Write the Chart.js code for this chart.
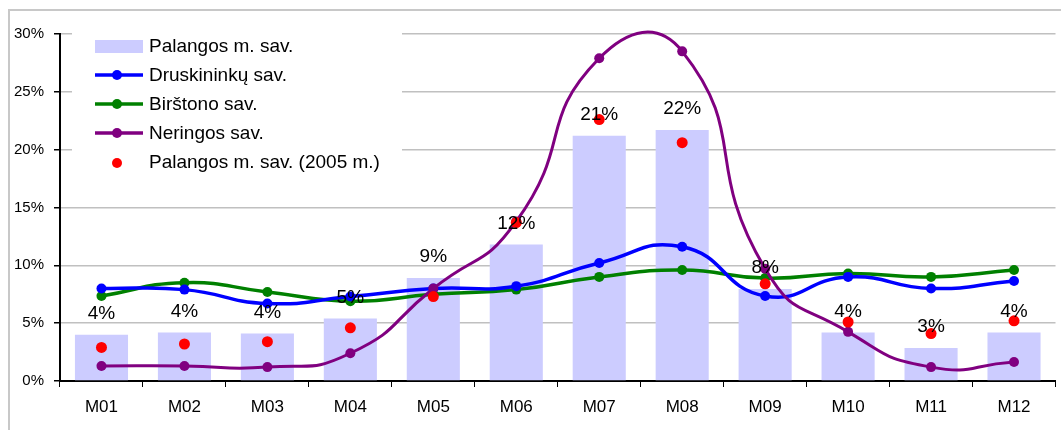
<!DOCTYPE html>
<html>
<head>
<meta charset="utf-8">
<script src="https://cdn.jsdelivr.net/npm/chart.js@4.4.1/dist/chart.umd.min.js"></script>
<style>
  html, body { margin: 0; padding: 0; background: #fff; }
  #wrap { position: relative; width: 1061px; height: 430px; overflow: hidden; }
  #frame { position: absolute; left: 8px; top: 9px; width: 1100px; height: 500px;
           border: 2px solid #c8c8c8; box-sizing: border-box; pointer-events: none; }
  canvas { position: absolute; left: 0; top: 0; }
</style>
</head>
<body>
<div id="wrap">
  <canvas id="chart" width="1061" height="430"></canvas>
  <div id="frame"></div>
</div>
<script>
/* ── data ── */
const months      = ['M01','M02','M03','M04','M05','M06','M07','M08','M09','M10','M11','M12'];
const palanga     = [4.0, 4.2, 4.1, 5.4, 8.9, 11.8, 21.2, 21.7, 7.95, 4.2, 2.85, 4.2];
const barLabels   = ['4%','4%','4%','5%','9%','12%','21%','22%','8%','4%','3%','4%'];
const druskininkai = [8.0, 7.9, 6.7, 7.3, 8.0, 8.2, 10.2, 11.6, 7.35, 9.0, 8.0, 8.65];
const birstonas   = [7.35, 8.5, 7.7, 6.9, 7.5, 7.9, 9.0, 9.6, 8.9, 9.3, 9.0, 9.6];
const neringa     = [1.3, 1.3, 1.2, 2.4, 8.0, 13.8, 27.9, 28.5, 9.7, 4.25, 1.2, 1.65];
const palanga2005 = [2.9, 3.2, 3.4, 4.6, 7.3, 13.7, 22.6, 20.6, 8.4, 5.1, 4.1, 5.2];
const yTicks      = [0, 5, 10, 15, 20, 25, 30];

const FONT = 'Liberation Sans, Arial, sans-serif';

/* ── legend drawn inside the plot, on a white box ── */
const legendItems = [
  { text: 'Palangos m. sav.',          type: 'bar',   color: '#ccccff' },
  { text: 'Druskininkų sav.',          type: 'line',  color: '#0000ff' },
  { text: 'Birštono sav.',             type: 'line',  color: '#008000' },
  { text: 'Neringos sav.',             type: 'line',  color: '#800080' },
  { text: 'Palangos m. sav. (2005 m.)', type: 'dot',  color: '#ff0000' }
];

const insideLegend = {
  id: 'insideLegend',
  beforeDatasetsDraw(chart) {
    const ctx = chart.ctx;
    const x0 = 95, y0 = 46, step = 29;
    ctx.save();
    ctx.fillStyle = '#fff';
    ctx.fillRect(72, 27, 330, 152);
    ctx.font = '19px ' + FONT;
    ctx.textBaseline = 'middle';
    legendItems.forEach((it, i) => {
      const y = y0 + i * step;
      if (it.type === 'bar') {
        ctx.fillStyle = it.color;
        ctx.fillRect(x0, y - 6, 48, 13);
      } else if (it.type === 'line') {
        ctx.strokeStyle = it.color;
        ctx.lineWidth = 3.5;
        ctx.beginPath(); ctx.moveTo(x0, y); ctx.lineTo(x0 + 48, y); ctx.stroke();
        ctx.fillStyle = it.color;
        ctx.beginPath(); ctx.arc(x0 + 22, y, 5, 0, Math.PI * 2); ctx.fill();
      } else {
        ctx.fillStyle = it.color;
        ctx.beginPath(); ctx.arc(x0 + 22, y + 1, 5, 0, Math.PI * 2); ctx.fill();
      }
      ctx.fillStyle = '#000';
      ctx.fillText(it.text, 149, y + 1);
    });
    ctx.restore();
  }
};

/* ── percentage labels above bars ── */
const barValueLabels = {
  id: 'barValueLabels',
  afterDatasetsDraw(chart) {
    const ctx = chart.ctx;
    const meta = chart.getDatasetMeta(0);
    ctx.save();
    ctx.font = '19px ' + FONT;
    ctx.fillStyle = '#000';
    ctx.textAlign = 'center';
    ctx.textBaseline = 'middle';
    meta.data.forEach((bar, i) => {
      ctx.fillText(barLabels[i], bar.x, bar.y - 21);
    });
    ctx.restore();
  }
};

const lineDs = (label, data, color, order, width, tension) => ({
  type: 'line',
  label, data, order,
  borderColor: color,
  backgroundColor: color,
  borderWidth: width,
  pointRadius: 5,
  pointHoverRadius: 5,
  pointBorderWidth: 0,
  tension: tension,
  fill: false,
  clip: false
});

new Chart(document.getElementById('chart'), {
  data: {
    labels: months,
    datasets: [
      {
        type: 'bar',
        label: 'Palangos m. sav.',
        data: palanga,
        backgroundColor: '#ccccff',
        barPercentage: 1,
        categoryPercentage: 0.64,
        order: 5
      },
      lineDs('Birštono sav.', birstonas, '#008000', 4, 3.5, 0.5),
      lineDs('Druskininkų sav.', druskininkai, '#0000ff', 3, 3.5, 0.5),
      lineDs('Neringos sav.', neringa, '#800080', 2, 3, 0.55),
      {
        type: 'line',
        label: 'Palangos m. sav. (2005 m.)',
        data: palanga2005,
        showLine: false,
        pointRadius: 5.5,
        pointBorderWidth: 0,
        backgroundColor: '#ff0000',
        borderColor: '#ff0000',
        order: 1
      }
    ]
  },
  options: {
    responsive: false,
    animation: false,
    layout: { padding: { left: 0, right: 5, top: 34, bottom: 0 } },
    plugins: { legend: { display: false }, tooltip: { enabled: false } },
    elements: { line: { capBezierPoints: false } },
    scales: {
      x: {
        offset: true,
        grid: { drawOnChartArea: false, drawTicks: true, tickLength: 6, tickColor: '#000', offset: true },
        border: { color: '#000', width: 2 },
        ticks: { color: '#000', font: { family: FONT, size: 17 }, padding: 10 },
        afterFit: s => { s.height = 49; }
      },
      y: {
        min: 0, max: 30,
        afterBuildTicks: s => { s.ticks = yTicks.map(v => ({ value: v })); },
        grid: { color: '#c0c0c0', lineWidth: 1.5, tickLength: 6, tickColor: '#000' },
        border: { color: '#000', width: 2 },
        ticks: { color: '#000', font: { family: FONT, size: 15 }, padding: 10, callback: v => v + '%' },
        afterFit: s => { s.width = 60; }
      }
    }
  },
  plugins: [insideLegend, barValueLabels]
});
</script>
</body>
</html>
